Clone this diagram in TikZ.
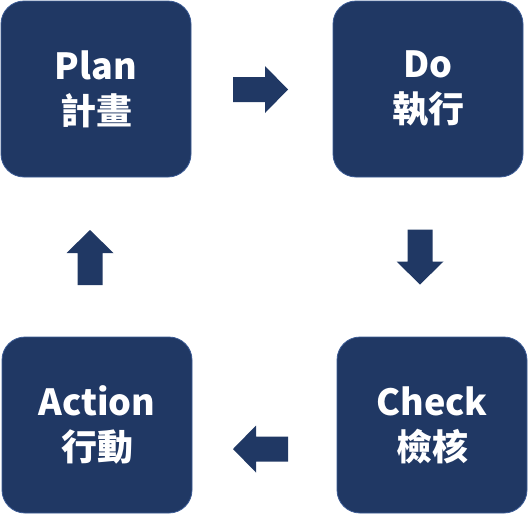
\documentclass[tikz,border=0pt]{standalone}
\usepackage{fontspec}
\usepackage{tikz}
\newfontfamily\cjk{Noto Sans CJK TC}
\definecolor{navyfill}{HTML}{203864}
\definecolor{navyedge}{HTML}{3A5A94}
\tikzset{
  pdcabox/.style  = {rectangle,rounded corners=23pt,fill=navyfill,draw=navyedge,line width=0.8pt,
                     minimum width=190pt,minimum height=176pt,align=center,text=white,
                     font=\cjk\bfseries\fontsize{36}{45}\selectfont},
  blockarr/.pic   = {\fill[navyfill] (-27.5,-12.5) -- (4.5,-12.5) -- (4.5,-23.5) -- (27.5,0)
                     -- (4.5,23.5) -- (4.5,12.5) -- (-27.5,12.5) -- cycle;}
}

\begin{document}
\begin{tikzpicture}[x=1pt,y=-1pt]
  \useasboundingbox (0,0) rectangle (529,515);
  \node[pdcabox] (plan)   at (96,89)   {Plan\\計畫};
  \node[pdcabox] (do)     at (428,89)  {Do\\執行};
  \node[pdcabox] (check)  at (432,425) {Check\\檢核};
  \node[pdcabox] (action) at (97,425)  {Action\\行動};
  % block arrows between the boxes
  \pic at (260.5,89.5)          {blockarr};
  \pic[rotate=-90] at (420,257) {blockarr};
  \pic[rotate=180] at (260.5,449) {blockarr};
  \pic[rotate=90] at (90,257.5) {blockarr};
\end{tikzpicture}
\end{document}
